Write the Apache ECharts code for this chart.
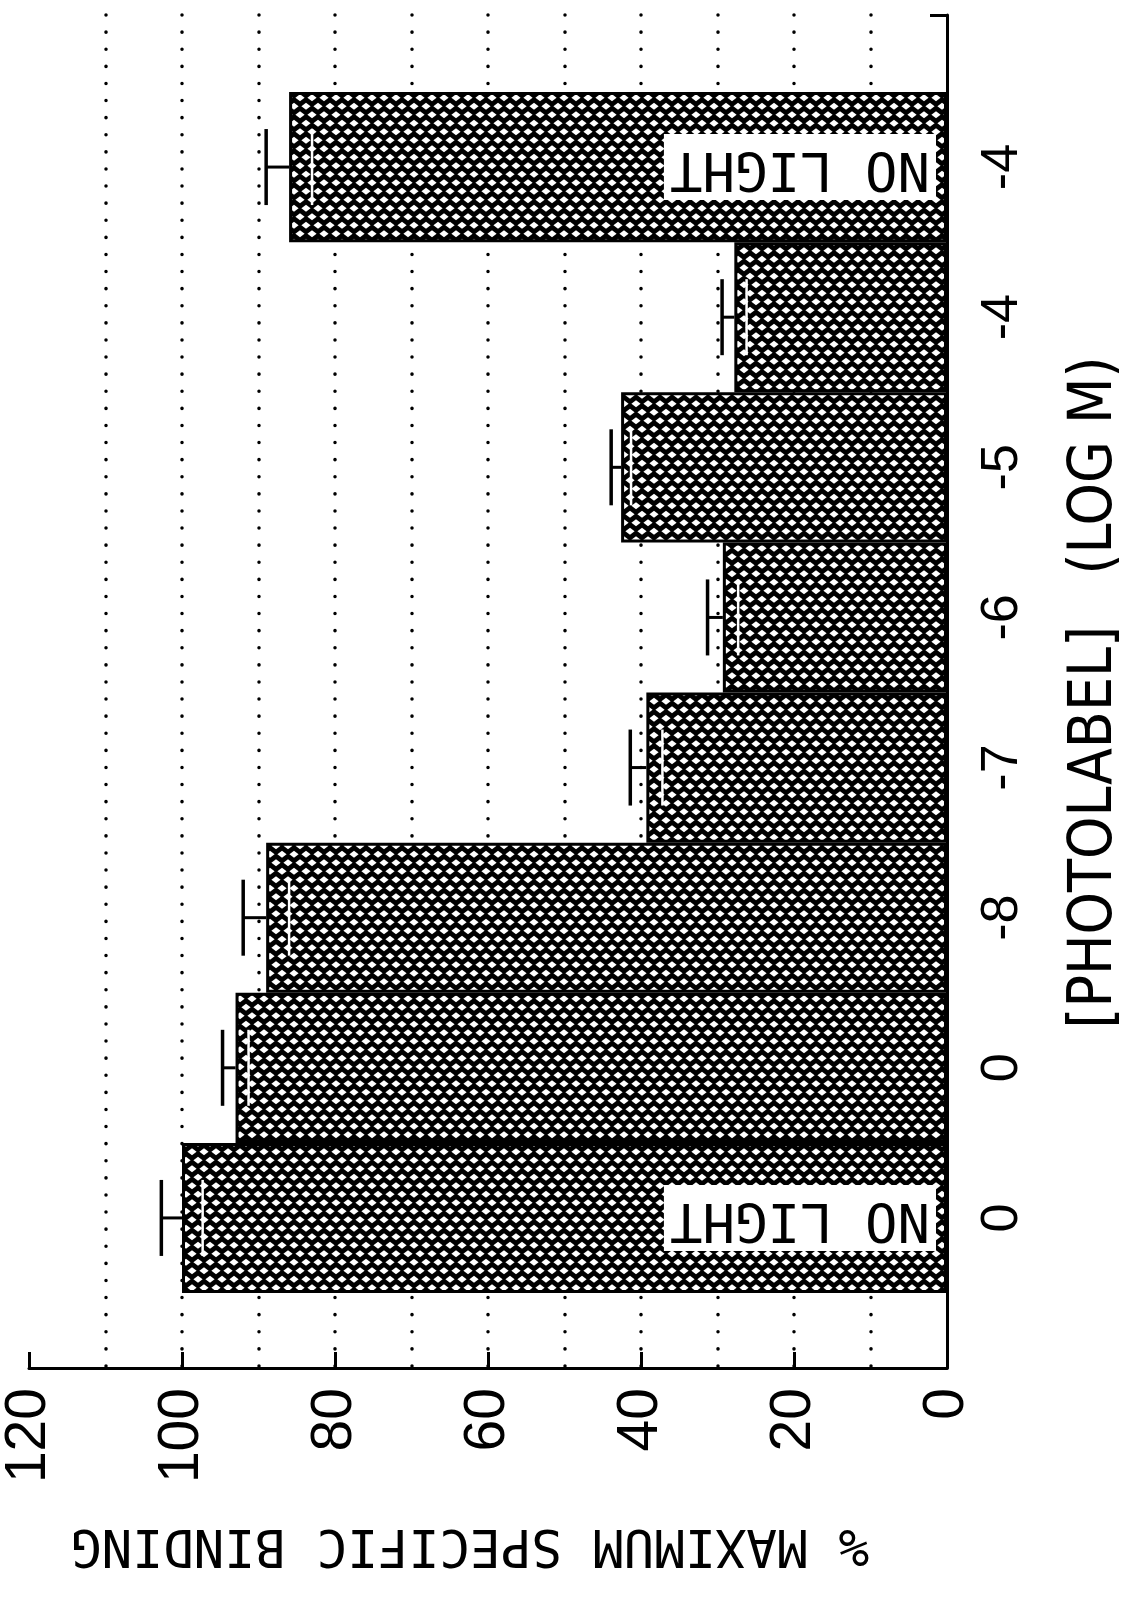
<!DOCTYPE html>
<html>
<head>
<meta charset="utf-8">
<script src="https://cdn.jsdelivr.net/npm/echarts@6/dist/echarts.min.js"></script>
<style>
  html, body { margin: 0; padding: 0; background: #fff; }
  #chart { width: 1134px; height: 1604px; }
</style>
</head>
<body>
<div id="chart"></div>
<script>
// photolabel concentration (log M), bottom to top
const categories = ['0', '0', '-8', '-7', '-6', '-5', '-4', '-4'];
const binding = [100, 93, 89, 39.3, 29.3, 42.6, 27.8, 86];
const errors = [2.7, 1.7, 3.0, 2.1, 2.0, 1.3, 1.6, 3.0];
const notes = ['NO LIGHT', '', '', '', '', '', '', 'NO LIGHT'];

// cross hatch fill: diamond holes in black
function hatch() {
  const c = document.createElement('canvas');
  c.width = 12;
  c.height = 17;
  const ctx = c.getContext('2d');
  ctx.fillStyle = '#000';
  ctx.fillRect(0, 0, 12, 17);
  ctx.fillStyle = '#fff';
  const hw = 4.6;
  const hh = 3.4;
  [[6, 4.25], [0, 12.75], [12, 12.75], [0, -4.25], [12, -4.25], [6, 21.25]].forEach(p => {
    ctx.beginPath();
    ctx.moveTo(p[0] - hw, p[1]);
    ctx.lineTo(p[0], p[1] - hh);
    ctx.lineTo(p[0] + hw, p[1]);
    ctx.lineTo(p[0], p[1] + hh);
    ctx.closePath();
    ctx.fill();
  });
  return c;
}

const dotted = { color: '#000', width: 3.5, type: [0.1, 17], cap: 'round' };
const axisFont = 'Liberation Sans, Arial, sans-serif';

const chart = echarts.init(document.getElementById('chart'));
chart.setOption({
  animation: false,
  backgroundColor: '#fff',
  grid: [
    { left: 29, right: 187, top: 15, bottom: 236 },
    { left: 29, right: 187, top: 92, bottom: 311 },
  ],
  xAxis: [
    {
      gridIndex: 0,
      type: 'value',
      inverse: true,
      min: 0,
      max: 120,
      interval: 20,
      name: '% MAXIMUM SPECIFIC BINDING',
      nameLocation: 'middle',
      nameRotate: 180,
      nameGap: 150,
      nameTextStyle: {
        fontFamily: 'DejaVu Sans Mono',
        fontSize: 51,
        color: '#000',
        padding: [0, 0, 0, 36],
      },
      axisLine: { show: true, lineStyle: { color: '#000', width: 3 } },
      axisTick: { show: true, inside: true, length: 16, lineStyle: { color: '#000', width: 3 } },
      axisLabel: {
        rotate: 90,
        align: 'right',
        verticalAlign: 'middle',
        margin: 20,
        fontFamily: axisFont,
        fontSize: 57,
        color: '#000',
      },
      minorTick: { show: false, splitNumber: 2 },
      splitLine: { show: true, showMaxLine: false, showMinLine: false, lineStyle: dotted },
      minorSplitLine: { show: true, lineStyle: dotted },
    },
    {
      gridIndex: 1,
      type: 'value',
      inverse: true,
      min: 0,
      max: 120,
      show: false,
      splitLine: { show: false },
    },
  ],
  yAxis: [
    {
      gridIndex: 0,
      type: 'value',
      position: 'right',
      min: 0,
      max: 1,
      interval: 1,
      axisLine: { show: true, lineStyle: { color: '#000', width: 3 } },
      axisTick: { show: true, inside: true, length: 17, lineStyle: { color: '#000', width: 3 } },
      axisLabel: { show: false },
      splitLine: { show: false },
    },
    {
      gridIndex: 1,
      type: 'category',
      position: 'right',
      data: categories,
      name: '[PHOTOLABEL]   (LOG M)',
      nameLocation: 'middle',
      nameRotate: 90,
      nameGap: 118,
      nameTextStyle: { fontFamily: 'DejaVu Sans Condensed, Liberation Sans Narrow, DejaVu Sans', fontSize: 60, color: '#000' },
      axisLine: { show: false },
      axisTick: { show: false },
      axisLabel: {
        rotate: 90,
        align: 'center',
        verticalAlign: 'top',
        margin: 30,
        fontFamily: axisFont,
        fontSize: 52,
        color: '#000',
      },
      splitLine: { show: false },
    },
  ],
  series: [
    {
      type: 'bar',
      xAxisIndex: 1,
      yAxisIndex: 1,
      barWidth: '100%',
      barCategoryGap: '0%',
      itemStyle: {
        color: { image: hatch(), repeat: 'repeat' },
        borderColor: '#000',
        borderWidth: 3,
      },
      label: {
        position: 'insideRight',
        rotate: 180,
        align: 'left',
        verticalAlign: 'middle',
        distance: 11,
        backgroundColor: '#fff',
        padding: [6, 6],
        fontFamily: 'DejaVu Sans Mono',
        fontSize: 54,
        color: '#000',
      },
      data: binding.map((v, i) => ({
        value: v,
        label: { show: notes[i] !== '', formatter: notes[i] },
      })),
    },
    {
      type: 'custom',
      xAxisIndex: 1,
      yAxisIndex: 1,
      z: 5,
      encode: { x: 1, y: 0 },
      data: binding.map((v, i) => [i, v, errors[i]]),
      renderItem: (params, api) => {
        const i = api.value(0);
        const v = api.value(1);
        const e = api.value(2);
        const mid = api.coord([v, i]);
        const hi = api.coord([v + e, i]);
        const lo = api.coord([v - e, i]);
        const h = 38;
        return {
          type: 'group',
          children: [
            { type: 'line', shape: { x1: mid[0], y1: mid[1], x2: hi[0], y2: hi[1] }, style: { stroke: '#000', lineWidth: 3 } },
            { type: 'line', shape: { x1: hi[0], y1: hi[1] - h, x2: hi[0], y2: hi[1] + h }, style: { stroke: '#000', lineWidth: 3.5 } },
            { type: 'line', shape: { x1: lo[0], y1: lo[1] - h, x2: lo[0], y2: lo[1] + h }, style: { stroke: '#fff', lineWidth: 2.5 } },
          ],
        };
      },
    },
  ],
});
</script>
</body>
</html>
